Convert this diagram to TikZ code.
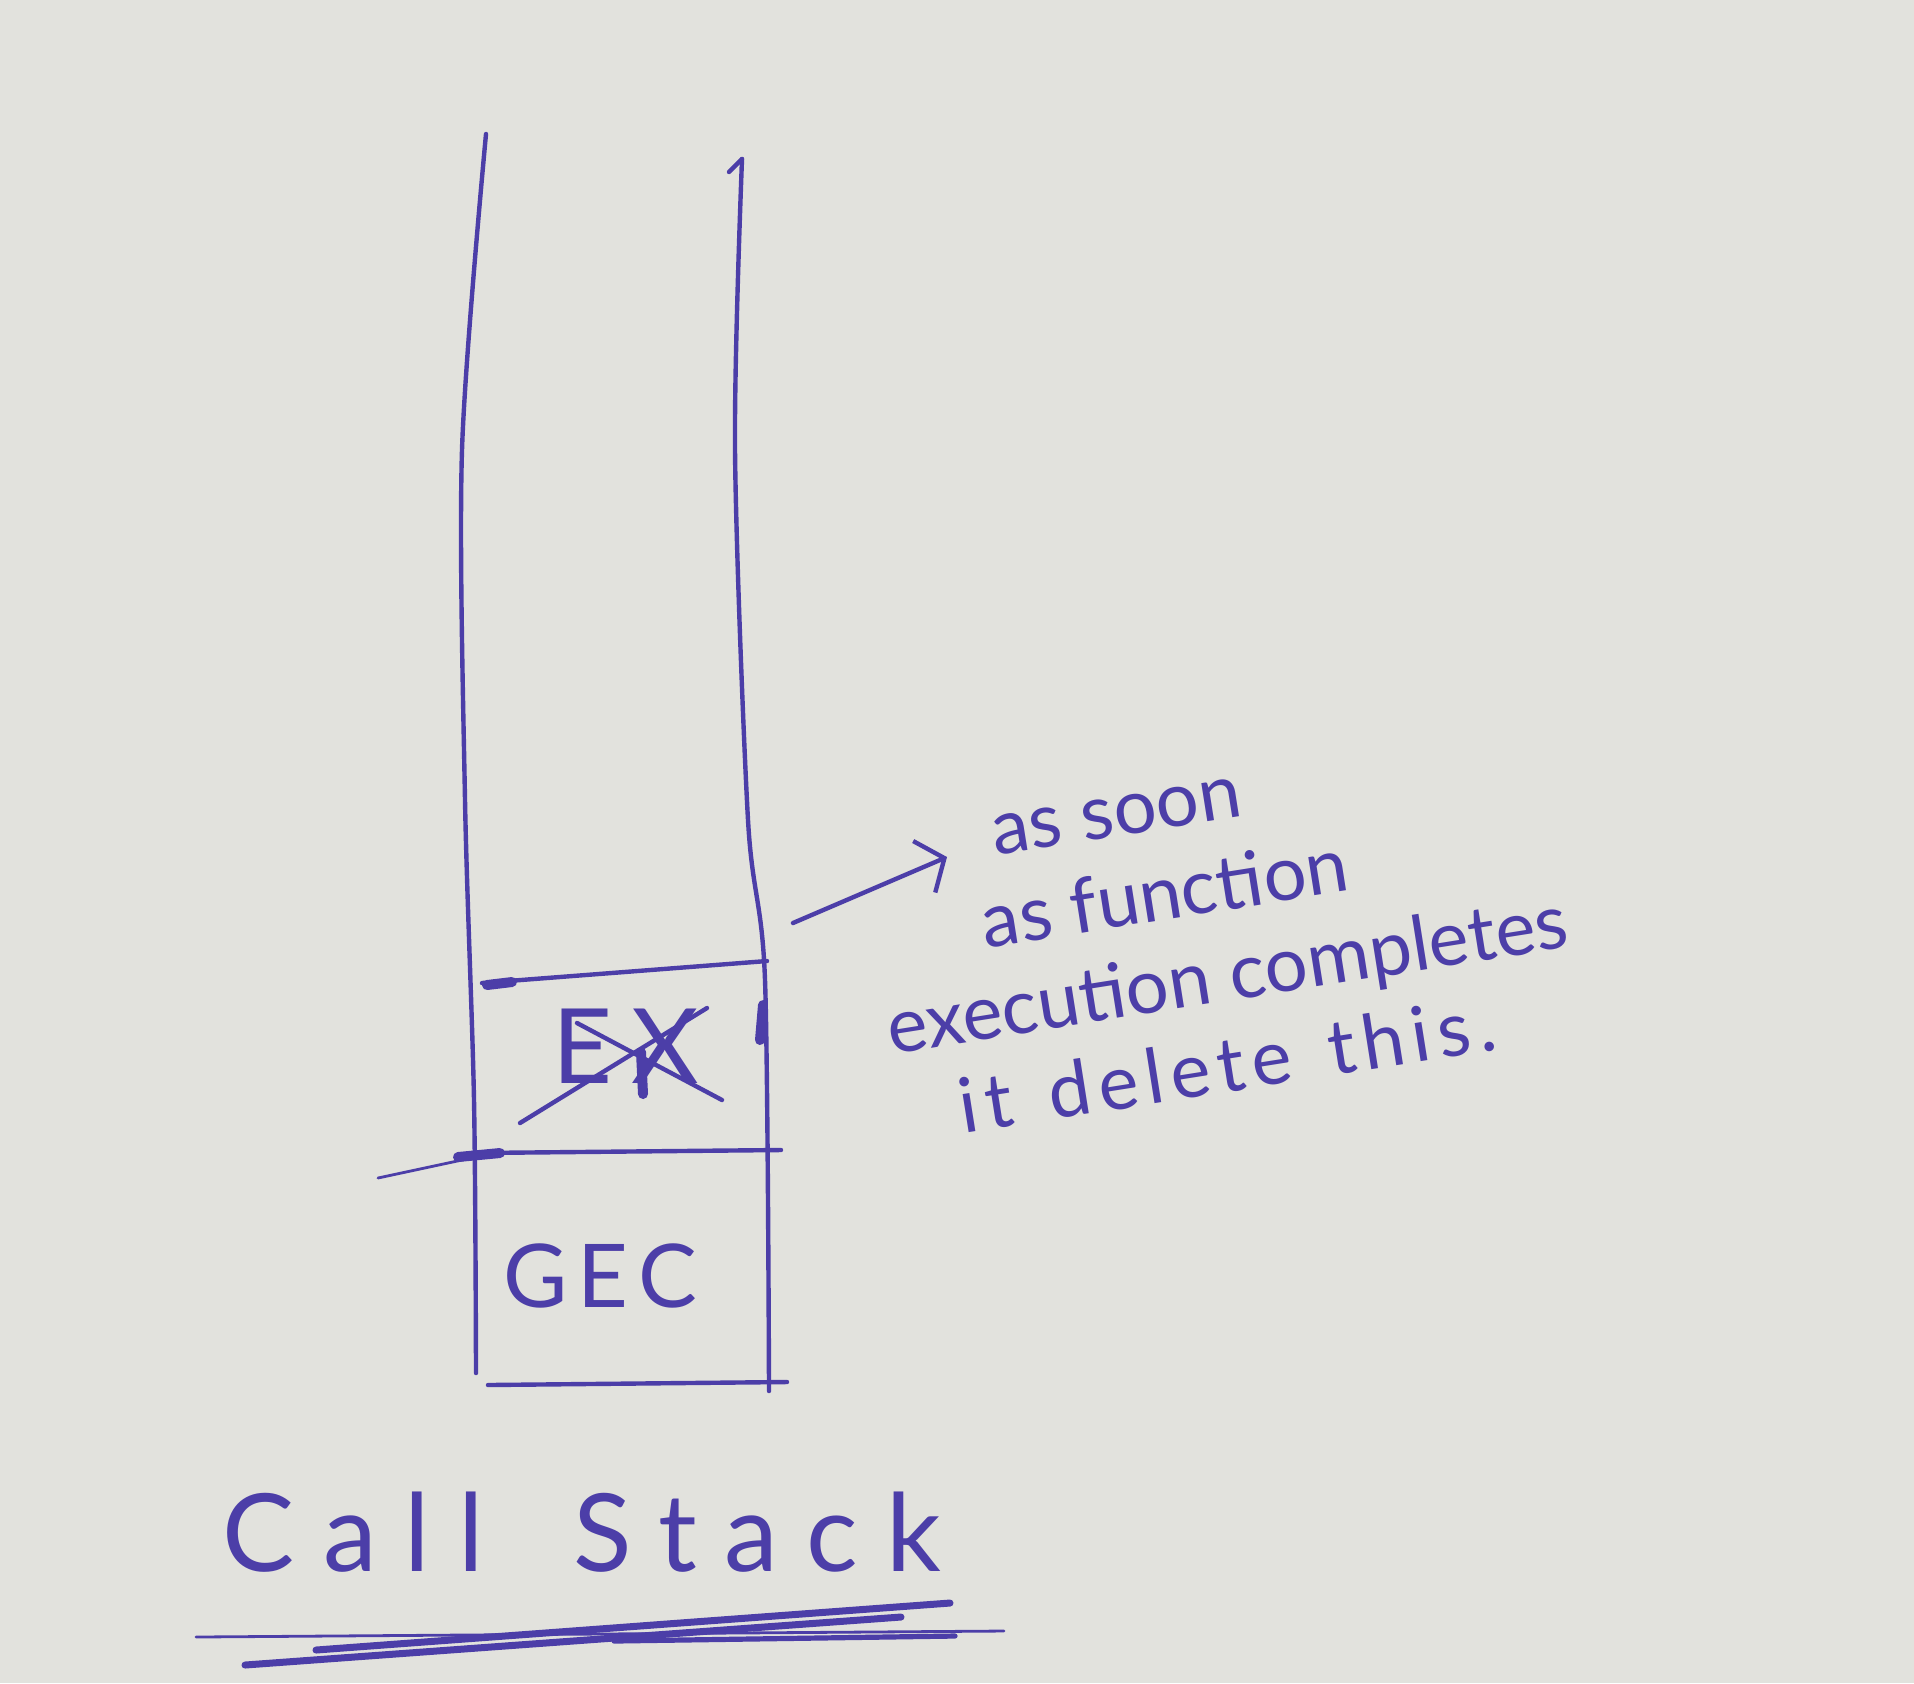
\documentclass[tikz,border=0pt]{standalone}
\usepackage{fontspec}
\setmainfont{Lato}
\usetikzlibrary{arrows.meta}
\definecolor{paper}{RGB}{226,226,221}
\definecolor{ink}{RGB}{76,62,168}
\begin{document}
\begin{tikzpicture}[x=0.5pt,y=-0.5pt,
  pen/.style={draw=ink,line width=2.2pt,line cap=round,line join=round},
  thinpen/.style={draw=ink,line width=1.4pt,line cap=round},
  blob/.style={draw=ink,line width=5pt,line cap=round},
  frame/.style={text=ink,font=\addfontfeatures{LetterSpace=12}\fontsize{44}{46}\selectfont,inner sep=0pt},
  exframe/.style={text=ink,font=\addfontfeatures{LetterSpace=18}\fontsize{52}{54}\selectfont,inner sep=0pt},
  note/.style={text=ink,font=\fontsize{38}{45}\selectfont,rotate=9,inner sep=0pt,align=center},
  title/.style={text=ink,font=\addfontfeatures{LetterSpace=26}\fontsize{54}{56}\selectfont,inner sep=0pt}]
\fill[paper] (0,0) rectangle (1914,1683);
\useasboundingbox (0,0) rectangle (1914,1683);
% walls
\draw[pen] plot[smooth] coordinates {(486,134) (462,450) (465,800) (474,1100) (476,1373)};
\draw[pen] plot[smooth] coordinates {(742,159) (735,450) (748,820) (765,980) (769,1391)};
\draw[pen] (729,172) -- (742,159);
% frame lines
\draw[pen] (482,983) -- (767,961);
\draw[pen] (476,1153) -- (781,1150);
\draw[thinpen] (378,1178) -- (476,1157);
\draw[pen] (488,1385) -- (787,1382);
% ink blobs
\draw[blob] (763,1005) -- (760,1040);
\draw[blob] (458,1157) -- (500,1153);
\draw[blob] (487,985) -- (512,982);
% frames
\node[frame] (gec) at (600,1276) {GEC};
\node[exframe] (ex) at (626,1046) {EX};
\draw[pen] (520,1123) -- (707,1008);
\draw[pen] (577,1023) -- (722,1100);
\draw[blob] (641,1052) -- (643,1094);
% note
\node[note] (note) at (1221,937) {as soon\rule{84pt}{0pt}\\ as function\rule{49pt}{0pt}\\ execution completes\\ {\addfontfeatures{LetterSpace=10}it\hspace{5pt} delete\hspace{5pt} this.}\rule{14pt}{0pt}};
\coordinate (as) at (793,923);
\coordinate (tip) at (947,857);
\draw[pen,-{Straight Barb[length=11pt,width=28pt]}] (as) -- (tip);
% title
\node[title] (cs) at (582,1532) {Call\hspace{45pt}Stack};
\draw[pen,line width=3.5pt] (316,1650) -- (950,1603);
\draw[pen,line width=3.5pt] (245,1665) -- (901,1617);
\draw[pen,line width=2.6pt] (614,1641) -- (955,1636);
\draw[thinpen] (196,1637) -- (1004,1631);
\end{tikzpicture}
\end{document}
